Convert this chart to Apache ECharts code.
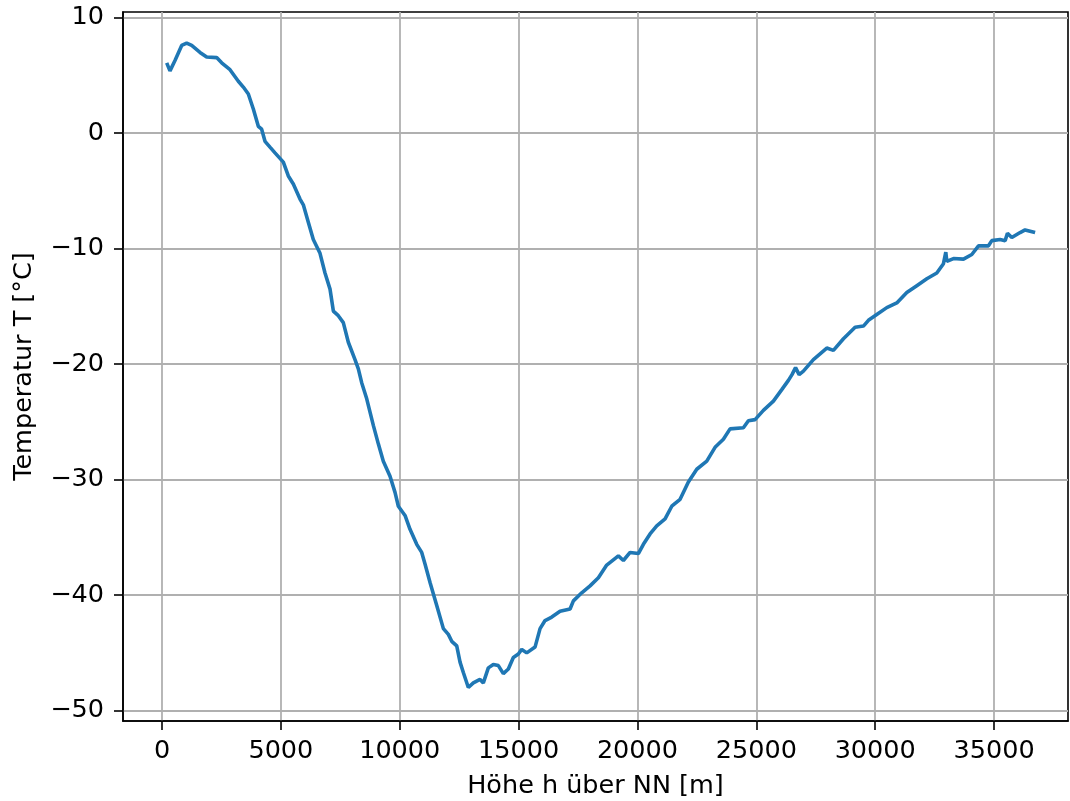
<!DOCTYPE html>
<html>
<head>
<meta charset="utf-8">
<script src="https://cdn.jsdelivr.net/npm/echarts@6/dist/echarts.min.js"></script>
<style>
  html, body { margin: 0; padding: 0; background: #fff; }
  #main { width: 1070px; height: 801px; }
</style>
</head>
<body>
<div id="main"></div>
<script>
// Höhe in m
var hoehe = [198, 336, 547, 828, 1038, 1249, 1599, 1879, 2300, 2511, 2861, 3211, 3421, 3632, 3842, 4052, 4192, 4333, 4543, 4754,
  5104, 5314, 5524, 5805, 5945, 6155, 6365, 6647, 6857, 7068, 7208, 7417, 7627, 7838, 8119, 8259, 8400, 8612, 8890, 9100,
  9310, 9592, 9802, 9942, 10223, 10433, 10715, 10925, 11064, 11275, 11557, 11836, 12045, 12188, 12398, 12537, 12676, 12886, 13096, 13378,
  13517, 13727, 13938, 14148, 14358, 14569, 14779, 14990, 15132, 15343, 15692, 15903, 16113, 16395, 16744, 17165, 17305, 17656, 18006, 18356,
  18707, 19197, 19408, 19689, 20038, 20249, 20530, 20811, 21161, 21443, 21793, 22142, 22494, 22915, 23264, 23614, 23895, 24456, 24666, 24947,
  25297, 25718, 26070, 26349, 26500, 26650, 26800, 26980, 27400, 27963, 28243, 28664, 29155, 29505, 29715, 30066, 30487, 30908, 31329, 31750,
  32171, 32591, 32871, 32970, 33012, 33293, 33713, 34064, 34345, 34765, 34905, 35255, 35466, 35563, 35745, 36096, 36306, 36727];
// Temperatur in °C
var temperatur = [6.1, 5.4, 6.3, 7.6, 7.8, 7.6, 7.0, 6.6, 6.55, 6.1, 5.5, 4.5, 4.0, 3.4, 2.1, 0.6, 0.35, -0.7, -1.2, -1.7,
  -2.5, -3.7, -4.4, -5.7, -6.2, -7.7, -9.2, -10.4, -12.1, -13.5, -15.4, -15.8, -16.4, -18.1, -19.6, -20.4, -21.6, -23.0, -25.3, -26.9,
  -28.4, -29.7, -31.1, -32.3, -33.1, -34.3, -35.6, -36.3, -37.3, -38.9, -40.9, -42.9, -43.4, -44.0, -44.4, -45.8, -46.7, -48.0, -47.6, -47.3,
  -47.6, -46.3, -46.0, -46.1, -46.8, -46.4, -45.4, -45.1, -44.7, -45.0, -44.5, -42.9, -42.2, -41.9, -41.4, -41.2, -40.5, -39.8, -39.2, -38.5,
  -37.4, -36.6, -37.0, -36.3, -36.4, -35.6, -34.7, -34.0, -33.4, -32.3, -31.7, -30.2, -29.1, -28.4, -27.2, -26.5, -25.6, -25.5, -24.9, -24.8,
  -24.0, -23.2, -22.2, -21.4, -20.9, -20.3, -20.9, -20.6, -19.6, -18.6, -18.8, -17.8, -16.8, -16.7, -16.2, -15.7, -15.1, -14.7, -13.8, -13.2,
  -12.6, -12.1, -11.3, -10.3, -11.1, -10.85, -10.9, -10.5, -9.75, -9.75, -9.3, -9.2, -9.3, -8.66, -9.03, -8.6, -8.37, -8.6];

var xTicks = [0, 5000, 10000, 15000, 20000, 25000, 30000, 35000];
var yTicks = [-50, -40, -30, -20, -10, 0, 10];

var punkte = [];
for (var i = 0; i < hoehe.length; i++) {
  punkte.push([hoehe[i], temperatur[i]]);
}

var schrift = 'DejaVu Sans';
var chart = echarts.init(document.getElementById('main'), null, { renderer: 'canvas' });

var option = {
  animation: false,
  backgroundColor: '#ffffff',
  grid: {
    left: 123, right: 2, top: 12, bottom: 80,
    show: true, borderColor: '#000', borderWidth: 1.6,
    outerBoundsMode: 'none'
  },
  xAxis: {
    type: 'value',
    min: -1640, max: 38110,
    name: 'Höhe h über NN [m]',
    nameLocation: 'middle',
    nameGap: 52,
    nameTextStyle: { fontFamily: schrift, fontSize: 25.5, color: '#000' },
    axisLine: { show: true, onZero: false, lineStyle: { color: '#000', width: 1.6 } },
    axisTick: { show: true, customValues: xTicks, length: 9, lineStyle: { color: '#000', width: 1.6 } },
    axisLabel: { customValues: xTicks, margin: 17, fontFamily: schrift, fontSize: 25.5, color: '#000',
      formatter: function (v) { return String(v); } },
    splitLine: { show: true, customValues: xTicks, lineStyle: { color: '#b0b0b0', width: 1.8 } }
  },
  yAxis: {
    type: 'value',
    min: -50.9, max: 10.5,
    name: 'Temperatur T [°C]',
    nameLocation: 'middle',
    nameGap: 86,
    nameRotate: 90,
    nameTextStyle: { fontFamily: schrift, fontSize: 25.5, color: '#000' },
    axisLine: { show: true, onZero: false, lineStyle: { color: '#000', width: 1.6 } },
    axisTick: { show: true, customValues: yTicks, length: 9, lineStyle: { color: '#000', width: 1.6 } },
    axisLabel: { customValues: yTicks, margin: 19, fontFamily: schrift, fontSize: 25.5, color: '#000',
      formatter: function (v) { return String(v).replace('-', '\u2212'); } },
    splitLine: { show: true, customValues: yTicks, lineStyle: { color: '#b0b0b0', width: 1.8 } }
  },
  series: [{
    type: 'line',
    data: punkte,
    showSymbol: false,
    lineStyle: { color: '#1f77b4', width: 3.6 },
    itemStyle: { color: '#1f77b4' }
  }]
};
chart.setOption(option);
</script>
</body>
</html>
